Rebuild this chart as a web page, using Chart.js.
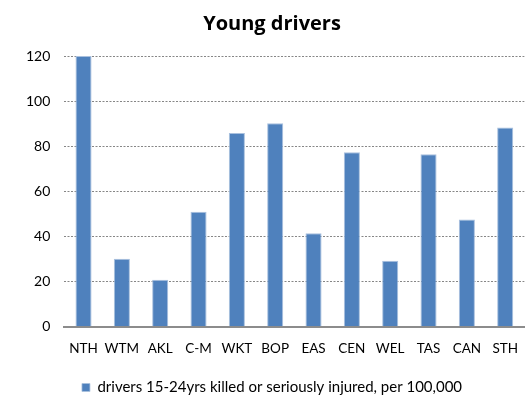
<!DOCTYPE html>
<html>
<head>
<meta charset="utf-8">
<script src="https://cdn.jsdelivr.net/npm/chart.js@4/dist/chart.umd.min.js"></script>
<style>
  html, body { margin: 0; padding: 0; background: #fff; overflow: hidden; }
  #wrap { width: 532px; height: 405px; position: relative; }
</style>
</head>
<body>
<div id="wrap"><canvas id="chart"></canvas></div>
<script>
// Regions and rates
const regions = ['NTH', 'WTM', 'AKL', 'C-M', 'WKT', 'BOP', 'EAS', 'CEN', 'WEL', 'TAS', 'CAN', 'STH'];
const rates = [120, 30.2, 20.8, 51.0, 85.9, 90.2, 41.4, 77.4, 29.3, 76.5, 47.6, 88.3];
const seriesLabel = 'drivers 15-24yrs killed or seriously injured, per 100,000';
const yTicks = [0, 20, 40, 60, 80, 100, 120];

const fontFamily = 'Lato, "Open Sans", sans-serif';

new Chart(document.getElementById('chart'), {
    type: 'bar',
    data: {
        labels: regions,
        datasets: [{
            label: seriesLabel,
            data: rates,
            backgroundColor: '#4f81bd',
            borderColor: '#a9c0de',
            borderWidth: { left: 1, right: 1, top: 1, bottom: 0 },
            barPercentage: 0.42,
            categoryPercentage: 1
        }]
    },
    options: {
        responsive: true,
        maintainAspectRatio: false,
        animation: false,
        layout: { padding: { top: 12, left: 12, right: 0, bottom: 0 } },
        plugins: {
            title: {
                display: true,
                text: 'Young drivers',
                color: '#000',
                font: { family: '"Open Sans", sans-serif', size: 20, weight: 'bold' },
                padding: { top: 0, bottom: 20 }
            },
            legend: {
                position: 'bottom',
                labels: {
                    color: '#000',
                    boxWidth: 8,
                    boxHeight: 8,
                    padding: 9,
                    font: { family: fontFamily, size: 15 }
                }
            },
            tooltip: { enabled: false }
        },
        scales: {
            x: {
                grid: { display: false, drawTicks: false },
                border: { display: true, color: '#8c8c8c', width: 2 },
                ticks: {
                    color: '#000',
                    padding: 14,
                    maxRotation: 0,
                    minRotation: 0,
                    autoSkip: false,
                    font: { family: fontFamily, size: 13.5 }
                }
            },
            y: {
                min: 0,
                max: 120,
                afterBuildTicks: axis => { axis.ticks = yTicks.map(v => ({ value: v })); },
                grid: {
                    color: '#868686',
                    lineWidth: 1,
                    drawTicks: false
                },
                border: { display: false, dash: [2, 1.5] },
                ticks: {
                    color: '#000',
                    padding: 14,
                    font: { family: fontFamily, size: 14 }
                }
            }
        }
    }
});
</script>
</body>
</html>
